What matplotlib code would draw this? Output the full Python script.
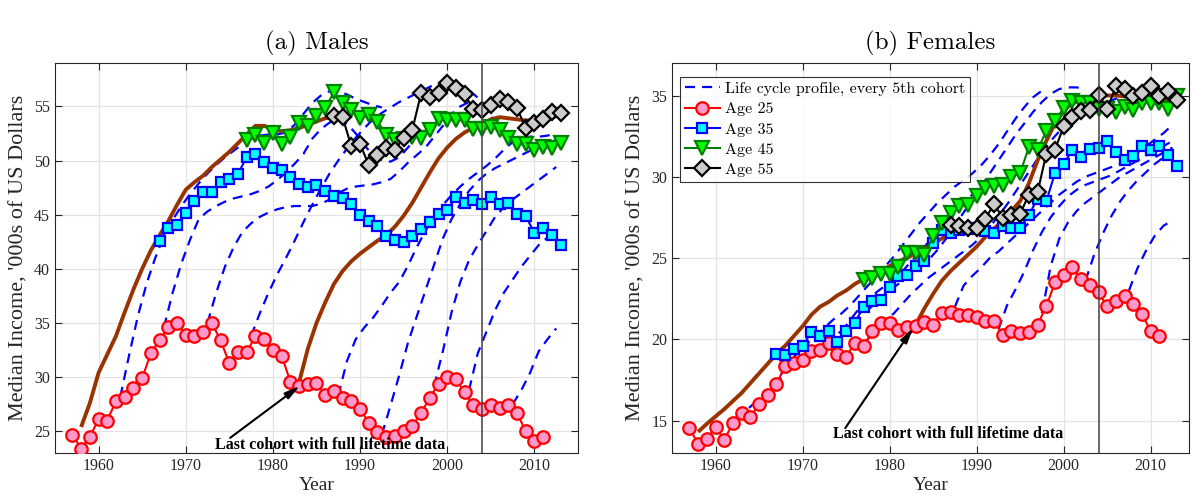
import matplotlib
matplotlib.use("Agg")
import matplotlib.pyplot as plt
from matplotlib.lines import Line2D

# ---------------- data ----------------
# Males, cross-section medians by age ('000s of US dollars)
m_age25_years = list(range(1957, 2012))
m_age25 = [24.7, 23.4, 24.5, 26.1, 26.0, 27.8, 28.2, 29.0, 29.9, 32.2,
           33.4, 34.6, 35.0, 33.9, 33.8, 34.2, 35.0, 33.4, 31.3, 32.3,
           32.3, 33.8, 33.5, 32.5, 32.0, 29.6, 29.2, 29.4, 29.5, 28.4,
           28.7, 28.1, 27.8, 27.1, 25.8, 24.9, 24.5, 24.6, 25.0, 25.5,
           26.7, 28.1, 29.4, 30.0, 29.8, 28.6, 27.4, 27.1, 27.4, 27.2,
           27.4, 26.7, 25.0, 24.1, 24.5]
m_age35_years = list(range(1967, 2014))
m_age35 = [42.6, 43.75, 44.05, 45.2, 46.3, 47.1, 47.1, 48.0, 48.25, 48.8,
           50.3, 50.6, 49.85, 49.3, 49.15, 48.5, 47.8, 47.6, 47.7, 47.2,
           46.7, 46.5, 45.95, 45.0, 44.4, 44.0, 43.0, 42.7, 42.5, 43.0,
           43.65, 44.3, 45.1, 45.4, 46.6, 46.1, 46.4, 45.95, 46.6, 45.95,
           46.1, 45.1, 44.9, 43.3, 43.8, 43.1, 42.2]
m_age45_years = list(range(1977, 2014))
m_age45 = [51.85, 52.4, 51.6, 52.5, 51.5, 52.2, 53.5, 53.2, 54.1, 54.85,
           56.3, 55.3, 54.7, 53.9, 54.2, 53.6, 52.4, 51.9, 52.0, 52.2,
           52.1, 52.85, 53.8, 53.7, 53.75, 53.7, 52.95, 52.9, 53.05, 52.85,
           52.1, 51.5, 51.5, 51.0, 51.25, 51.15, 51.6]
m_age55_years = list(range(1987, 2014))
m_age55 = [54.15, 54.0, 51.3, 51.5, 49.6, 50.55, 51.2, 51.0, 52.1, 52.85,
           56.2, 55.9, 56.2, 57.15, 56.7, 56.1, 54.75, 54.7, 55.15, 55.7,
           55.4, 54.85, 53.0, 53.5, 53.8, 54.45, 54.4]

# Males, life cycle profiles (every 5th cohort), yearly from the first point
m_profile_start = [1962.5, 1967.5, 1972.5, 1977.5, 1987.5, 1992.5, 1997.5, 2002.5, 2007.5]
m_profile_vals = [
    [28.2, 32.0, 35.6, 38.6, 41.0, 43.0, 44.5, 45.8, 46.9, 47.9, 48.8, 49.6,
     50.3, 50.9, 51.5, 52.0, 52.3, 52.4, 52.4, 52.6, 53.3, 54.3, 55.3, 56.0,
     56.4, 56.4, 56.1, 55.7, 55.4, 55.1, 54.9],
    [34.6, 37.8, 40.5, 42.7, 44.6, 45.3, 45.8, 46.2, 46.5, 46.7, 46.9, 47.2,
     47.6, 48.2, 48.9, 49.7, 50.6, 52.0, 52.9, 53.5, 53.9, 53.4, 52.5, 51.4,
     50.5, 50.0, 49.9, 50.3, 51.2, 52.3, 53.3],
    [35.0, 37.8, 40.2, 42.0, 43.4, 44.2, 44.8, 45.2, 45.5, 45.7, 45.8, 45.8,
     45.8, 46.0, 46.4, 47.0, 47.4, 47.6, 47.7, 47.8, 48.0, 48.3, 49.0, 49.8,
     50.5, 51.2, 52.2, 53.2, 54.3, 55.0, 55.4],
    [33.8, 35.9, 37.8, 39.5, 41.0, 42.6, 44.3, 45.9, 47.4, 48.8, 50.0, 51.1,
     52.1, 53.0, 53.8, 54.4, 54.9, 55.4, 55.8, 56.2, 56.6, 57.0, 57.3, 57.3,
     57.0, 56.5, 55.8, 54.8, 53.5, 52.5, 52.0],
    [28.3, 31.5, 33.5, 34.6, 35.5, 36.6, 37.8, 38.8, 40.3, 42.0, 43.5, 44.8,
     45.9, 46.8, 47.6, 48.3, 48.9, 49.5, 50.2, 51.0, 51.7, 52.1, 52.2, 52.2,
     52.3, 52.5],
    [24.7, 27.4, 30.2, 33.2, 35.6, 38.0, 40.4, 42.8, 44.6, 46.0, 47.2, 48.1,
     48.8, 49.3, 49.7, 50.1, 50.5, 50.9, 51.3, 51.6, 51.9],
    [27.8, 29.2, 32.4, 36.0, 38.8, 40.8, 42.2, 43.5, 44.8, 45.7, 46.4, 47.0,
     47.6, 48.2, 48.8, 49.4],
    [28.8, 32.2, 34.2, 36.2, 37.8, 39.0, 40.2, 41.2, 42.2, 42.9, 43.6],
    [27.5, 28.8, 30.4, 32.4, 33.5, 34.5],
]
# Males, highlighted cohorts (first cohort and last with full lifetime data)
m_first_years = list(range(1958, 1989))
m_first = [25.4, 27.6, 30.4, 32.1, 33.8, 36.0, 38.1, 40.0, 41.7, 43.1,
           44.4, 45.9, 47.3, 48.0, 48.6, 49.4, 50.1, 50.8, 51.6, 52.4,
           53.2, 53.2, 52.9, 52.7, 52.8, 53.0, 53.3, 53.6, 53.9, 54.0, 54.2]
m_last_years = list(range(1983, 2014))
m_last = [29.5, 32.6, 35.0, 36.9, 38.6, 39.8, 40.7, 41.4, 42.0, 42.6,
          43.1, 43.9, 44.9, 46.1, 47.5, 48.9, 50.2, 51.2, 52.0, 52.6,
          53.0, 53.4, 53.8, 54.0, 53.9, 53.8, 53.7, 53.7, 53.8, 54.0, 54.2]

# Females
f_age25_years = list(range(1957, 2012))
f_age25 = [14.53, 13.55, 13.87, 14.59, 13.81, 14.84, 15.46, 15.21, 16.03, 16.54,
           17.26, 18.37, 18.53, 18.7, 19.25, 19.35, 19.8, 19.09, 18.9, 19.8,
           19.56, 20.52, 21.0, 21.03, 20.59, 20.73, 20.81, 21.05, 20.9, 21.61,
           21.67, 21.5, 21.47, 21.37, 21.14, 21.1, 20.28, 20.48, 20.38, 20.42,
           20.9, 22.02, 23.5, 23.97, 24.45, 23.73, 23.36, 22.88, 22.02, 22.33,
           22.68, 22.19, 21.55, 20.48, 20.22]
f_age35_years = list(range(1967, 2014))
f_age35 = [19.11, 19.05, 19.42, 19.6, 20.42, 20.22, 20.52, 19.83, 20.48, 21.03,
           21.98, 22.33, 22.39, 23.21, 23.91, 23.97, 24.53, 24.8, 25.92, 26.74,
           26.54, 26.74, 26.78, 26.85, 26.64, 26.54, 26.95, 26.85, 26.85, 27.67,
           28.63, 28.49, 30.23, 30.81, 31.63, 31.2, 31.71, 31.77, 32.22, 31.5,
           31.05, 31.26, 31.92, 31.63, 31.87, 31.36, 30.64]
f_age45_years = list(range(1977, 2014))
f_age45 = [23.62, 23.77, 24.03, 24.03, 24.45, 25.33, 25.3, 25.2, 26.33, 27.15,
           27.77, 28.18, 28.24, 28.79, 29.31, 29.45, 29.51, 29.99, 30.23, 31.83,
           31.67, 32.8, 33.41, 34.24, 34.64, 34.54, 34.54, 34.17, 34.17, 33.97,
           34.3, 34.13, 34.54, 34.54, 34.54, 34.17, 34.99]
f_age55_years = list(range(1987, 2014))
f_age55 = [27.05, 26.95, 26.85, 26.85, 27.4, 28.34, 27.46, 27.67, 27.73, 28.9,
           29.04, 31.42, 31.67, 33.1, 33.68, 34.03, 34.09, 35.06, 34.17, 35.57,
           35.4, 35.0, 35.16, 35.57, 34.95, 35.26, 34.75]

f_profile_start = [1962.5, 1967.5, 1972.5, 1977.5, 1987.5, 1992.5, 1997.5, 2002.5, 2007.5]
f_profile_vals = [
    [15.0, 15.6, 16.1, 16.6, 17.1, 17.6, 18.1, 18.5, 18.9, 19.3, 19.6, 20.0,
     20.5, 21.2, 21.9, 22.4, 22.9, 23.3, 23.7, 24.2, 24.8, 25.4, 26.0, 26.6,
     27.2, 27.8, 28.4, 28.9, 29.3, 29.6, 29.9],
    [17.8, 18.6, 19.2, 19.7, 20.2, 20.7, 21.2, 21.6, 22.1, 22.7, 23.3, 23.9,
     24.5, 25.1, 25.8, 26.5, 27.2, 27.8, 28.4, 28.9, 29.4, 29.8, 30.2, 30.7,
     31.3, 32.0, 32.8, 33.6, 34.3, 34.9, 35.3],
    [19.8, 20.2, 20.5, 20.9, 21.3, 21.8, 22.3, 22.8, 23.2, 23.6, 24.0, 24.4,
     24.9, 25.5, 26.2, 27.0, 27.8, 28.6, 29.4, 30.2, 31.0, 31.8, 32.6, 33.3,
     34.0, 34.6, 35.1, 35.4, 35.5, 35.5, 35.4],
    [20.0, 20.6, 21.1, 21.6, 22.2, 22.8, 23.3, 23.8, 24.2, 24.6, 25.0, 25.4,
     25.8, 26.3, 26.9, 27.6, 28.3, 29.1, 29.9, 30.7, 31.5, 32.2, 32.8, 33.3,
     33.7, 34.0, 34.3, 34.5, 34.7, 34.9, 35.0],
    [22.0, 23.3, 23.9, 24.4, 25.0, 25.4, 25.9, 26.4, 26.9, 27.4, 27.9, 28.4,
     28.9, 29.3, 29.7, 30.0, 30.2, 30.4, 30.6, 30.8, 31.1, 31.5, 31.9, 32.3,
     32.7, 33.2],
    [20.6, 22.1, 23.1, 24.2, 25.5, 26.6, 27.5, 28.2, 28.8, 29.2, 29.5, 29.7,
     29.9, 30.1, 30.4, 30.7, 31.0, 31.3, 31.6, 31.9, 32.2],
    [21.6, 24.5, 26.2, 27.2, 27.9, 28.4, 28.8, 29.2, 29.6, 30.0, 30.3, 30.6,
     30.9, 31.2, 31.5, 31.8],
    [23.6, 25.2, 26.5, 27.6, 28.5, 29.2, 29.8, 30.3, 30.8, 31.2, 31.6],
    [23.0, 24.4, 25.5, 26.4, 27.0, 27.3],
]
f_first_years = list(range(1958, 1989))
f_first = [14.3, 14.8, 15.25, 15.7, 16.2, 16.7, 17.3, 17.9, 18.5, 19.1,
           19.6, 20.2, 20.8, 21.5, 22.0, 22.3, 22.7, 23.0, 23.4, 23.7,
           23.9, 24.2, 24.5, 24.8, 25.0, 25.3, 25.6, 25.9, 26.2, 26.5, 26.8]
f_last_years = list(range(1983, 2014))
f_last = [20.9, 21.9, 22.8, 23.6, 24.2, 24.7, 25.2, 25.7, 26.3, 26.8,
          27.3, 27.9, 28.5, 29.6, 31.0, 32.2, 33.3, 34.1, 34.5, 34.75,
          34.85, 34.95, 35.0, 35.0, 34.95, 34.95, 34.9, 34.85, 34.8, 34.75, 34.75]

# ---------------- style ----------------
SERIF = "Liberation Serif"
CM = "cmr10"
DASH_BLUE = "#0000ff"
BROWN = "#993300"
INK = "#262626"

marker_styles = [
    ("Age 25", dict(color="#ff0000", marker="o", mfc="#ff99cc", mec="#ff0000", ms=9)),
    ("Age 35", dict(color="#0000ff", marker="s", mfc="#00ffff", mec="#0000ff", ms=7.5)),
    ("Age 45", dict(color="#008000", marker="v", mfc="#00ff00", mec="#008000", ms=10)),
    ("Age 55", dict(color="#000000", marker="D", mfc="#cccccc", mec="#000000", ms=8)),
]


def draw_panel(ax, profiles, first, last, ages, ylim, yticks, title,
               arrow_head, arrow_tail, text_pos):
    starts, vals = profiles
    for s, v in zip(starts, vals):
        xs = [s + i for i in range(len(v))]
        ax.plot(xs, v, color=DASH_BLUE, lw=1.6, dashes=(4.5, 3.2), zorder=2)
    for yrs, v in (first, last):
        ax.plot(yrs, v, color=BROWN, lw=2.8, zorder=3, solid_capstyle="butt")
    for (label, st), (yrs, v) in zip(marker_styles, ages):
        ax.plot(yrs, v, lw=1.5, mew=1.6, zorder=4, **st)
    ax.axvline(2004, color="#404040", lw=1.1, zorder=5)

    ax.annotate("", xy=arrow_head, xytext=arrow_tail, zorder=6,
                arrowprops=dict(arrowstyle="-|>,head_length=0.9,head_width=0.22",
                                color="black", lw=1.5, shrinkA=0, shrinkB=0))
    ax.text(text_pos[0], text_pos[1], "Last cohort with full lifetime data",
            ha="left", va="baseline", fontsize=11.5, fontweight="bold",
            family=SERIF, zorder=6)

    ax.set_ylim(*ylim)
    ax.set_yticks(yticks)
    ax.set_xticks(range(1960, 2011, 10))
    ax.grid(True, color="#e3e3e3", lw=0.9)
    ax.set_axisbelow(True)
    ax.tick_params(direction="in", top=True, right=True, length=5, width=0.8,
                   labelsize=11.5, colors=INK, labelcolor=INK)
    for lab in ax.get_xticklabels() + ax.get_yticklabels():
        lab.set_family(SERIF)
    for sp in ax.spines.values():
        sp.set_color(INK)
        sp.set_linewidth(0.8)
    ax.set_xlabel("Year", family=SERIF, fontsize=14, color=INK, labelpad=2)
    ax.set_ylabel("Median Income, '000s of US Dollars", family=SERIF, fontsize=16,
                  color=INK, labelpad=4)
    ax.set_title(title, family=CM, fontsize=18, pad=10)


fig = plt.figure(figsize=(11.92, 5.03), dpi=100)
ax_m = fig.add_axes([0.0461, 0.0994, 0.4388, 0.7753])
ax_f = fig.add_axes([0.5638, 0.0994, 0.4337, 0.7753])

draw_panel(ax_m, (m_profile_start, m_profile_vals),
           (m_first_years, m_first), (m_last_years, m_last),
           [(m_age25_years, m_age25), (m_age35_years, m_age35),
            (m_age45_years, m_age45), (m_age55_years, m_age55)],
           (23.0, 59.0), [25, 30, 35, 40, 45, 50, 55], "(a) Males",
           (1983.1, 29.2), (1975.1, 24.4), (1973.35, 23.4))
ax_m.set_xlim(1955, 2015)

draw_panel(ax_f, (f_profile_start, f_profile_vals),
           (f_first_years, f_first), (f_last_years, f_last),
           [(f_age25_years, f_age25), (f_age35_years, f_age35),
            (f_age45_years, f_age45), (f_age55_years, f_age55)],
           (13.0, 37.0), [15, 20, 25, 30, 35], "(b) Females",
           (1982.7, 20.7), (1974.9, 14.53), (1973.5, 13.92))
ax_f.set_xlim(1955, 2014.4)

handles = [Line2D([], [], color=DASH_BLUE, lw=1.6, dashes=(4.5, 3.2))]
labels = ["Life cycle profile, every 5th cohort"]
for label, st in marker_styles:
    handles.append(Line2D([], [], lw=1.5, mew=1.6, **st))
    labels.append(label)
leg = ax_f.legend(handles, labels, loc="upper left", bbox_to_anchor=(0.0155, 0.964),
                  borderaxespad=0, prop={"family": CM, "size": 11.5},
                  frameon=True, fancybox=False, edgecolor="black",
                  handlelength=2.2, handletextpad=0.3, labelspacing=0.38,
                  borderpad=0.3)
leg.get_frame().set_linewidth(0.8)

fig.savefig("out.png", dpi=100)
